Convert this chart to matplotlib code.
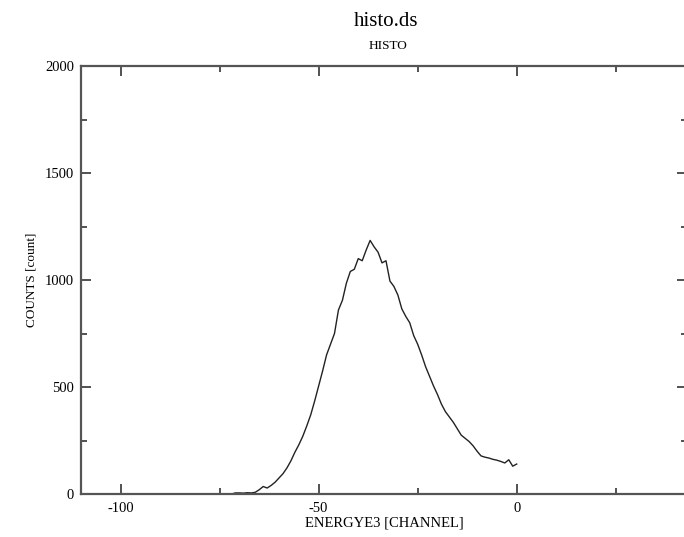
import numpy as np
import matplotlib.pyplot as plt
from matplotlib.ticker import MultipleLocator

# channel / counts of the ENERGYE3 histogram
channel = list(range(-72, 1))
counts = [0, 5, 5, 4, 6, 5, 8, 20, 35, 28,
          40, 55, 75, 95, 122, 155, 195, 230, 270, 318,
          370, 435, 505, 575, 650, 700, 750, 860, 905, 985,
          1040, 1050, 1100, 1090, 1140, 1185, 1155, 1130, 1080, 1090,
          995, 970, 930, 865, 830, 800, 740, 700, 650, 595,
          550, 505, 465, 420, 385, 360, 335, 305, 275, 260,
          245, 225, 200, 178, 172, 168, 162, 158, 152, 145,
          160, 130, 140]

x_major = [-100, -50, 0]
y_major = [0, 500, 1000, 1500, 2000]

plt.rcParams['font.family'] = ['Liberation Serif', 'DejaVu Serif']
plt.rcParams['axes.unicode_minus'] = False

fig = plt.figure(figsize=(6.84, 5.37), dpi=100)
ax = fig.add_axes([81 / 684, 1 - 494 / 537, 606 / 684, 428 / 537])

ax.plot(channel, counts, color='#222222', lw=1.0)

ax.set_xlim(-110, 43)
ax.set_ylim(0, 2000)
ax.set_xticks(x_major)
ax.set_yticks(y_major)
ax.xaxis.set_minor_locator(MultipleLocator(25))
ax.yaxis.set_minor_locator(MultipleLocator(250))

ax.tick_params(which='both', direction='in', top=True, right=True,
               color='#333333', width=1.2, labelsize=10.5)
ax.tick_params(which='major', length=7)
ax.tick_params(which='minor', length=4)
ax.tick_params(axis='x', pad=6)
ax.tick_params(axis='y', pad=5)

for s in ax.spines.values():
    s.set_color('#555555')
    s.set_linewidth(1.6)

ax.set_xlabel('ENERGYE3 [CHANNEL]', fontsize=10.5, labelpad=1)
ax.set_ylabel('COUNTS [count]', fontsize=9.5, labelpad=5)

fig.text(386 / 684, 1 - 22 / 537, 'histo.ds', ha='center', va='center', fontsize=15)
fig.text(388 / 684, 1 - 46 / 537, 'HISTO', ha='center', va='center', fontsize=9.5)

fig.savefig('out.png', dpi=100)
